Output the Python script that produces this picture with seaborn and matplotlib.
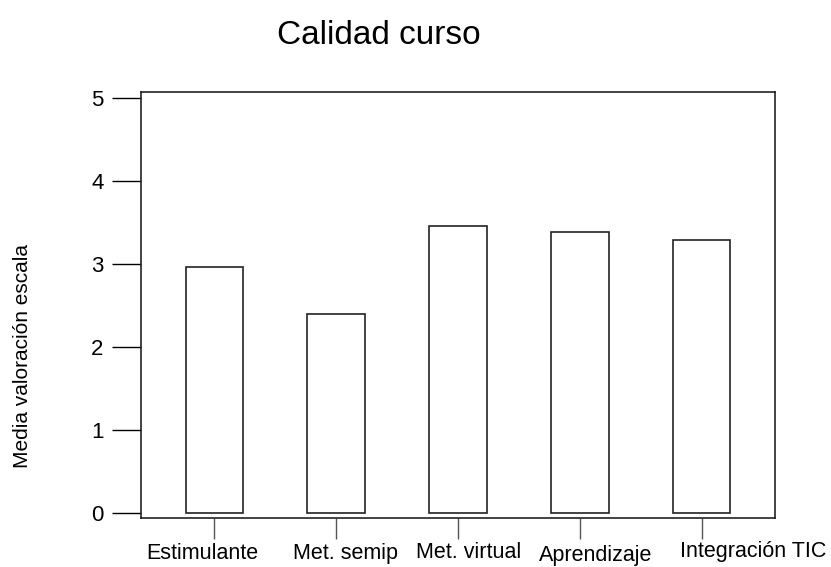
import matplotlib
matplotlib.use("Agg")
import matplotlib.pyplot as plt
import matplotlib.transforms as mtransforms
import seaborn as sns
import pandas as pd

categories = ["Estimulante", "Met. semip", "Met. virtual", "Aprendizaje", "Integración TIC"]
means = [2.96, 2.40, 3.46, 3.38, 3.29]
y_ticks = [0, 1, 2, 3, 4, 5]

df = pd.DataFrame({"item": categories, "media": means})

sns.set_theme(style="white")
plt.rcParams["font.family"] = ["Liberation Sans", "DejaVu Sans"]
plt.rcParams["text.color"] = "black"
plt.rcParams["xtick.color"] = "black"
plt.rcParams["ytick.color"] = "black"
plt.rcParams["xtick.labelcolor"] = "black"
plt.rcParams["ytick.labelcolor"] = "black"

fig = plt.figure(figsize=(8.31, 5.67), dpi=100)
ax = fig.add_axes([141 / 831, 49 / 567, 634 / 831, 426 / 567])

sns.barplot(data=df, x="item", y="media", order=categories, ax=ax,
            color="white", edgecolor="#222222", linewidth=1.2,
            width=0.47, errorbar=None, saturation=1)

ax.set_xlim(-0.6, 4.6)
ax.set_ylim(-0.06, 5.072)
ax.set_yticks(y_ticks)
ax.set_yticklabels([str(t) for t in y_ticks])
ax.set_xlabel("")
ax.set_ylabel("")

for side in ["left", "right", "top", "bottom"]:
    ax.spines[side].set_visible(True)
    ax.spines[side].set_color("#222222")
    ax.spines[side].set_linewidth(1.2)

ax.tick_params(axis="y", direction="out", length=21, width=1, color="black",
               labelcolor="black", labelsize=16, pad=6, left=True)
ax.tick_params(axis="x", direction="out", length=15, width=1, color="#555555",
               labelcolor="black", labelsize=15.5, pad=3, bottom=True)

# staggered category labels under the bars
label_shift = [(-12, 0), (9, 0), (11, 1), (16, -2), (51, 2)]
for lab, (dx, dy) in zip(ax.get_xticklabels(), label_shift):
    lab.set_transform(lab.get_transform() +
                      mtransforms.ScaledTranslation(dx / 100, dy / 100, fig.dpi_scale_trans))

fig.text(379 / 831, 1 - 35 / 567, "Calidad curso", ha="center", va="center", fontsize=24,
         color="black")
fig.text(23 / 831, 1 - 356 / 567, "Media valoración escala", ha="center", va="center",
         rotation=90, fontsize=15, color="black")

fig.savefig("out.png", dpi=100)
